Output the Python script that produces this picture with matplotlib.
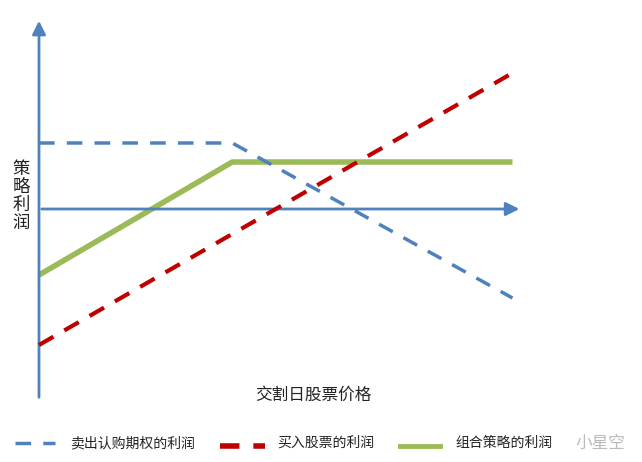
import matplotlib
matplotlib.use("Agg")
import matplotlib.pyplot as plt

plt.rcParams['font.family'] = ['Noto Sans CJK SC', 'DejaVu Sans']

# data (price units; strike at 40)
price_call = [0, 40, 98]
call_profit = [6.6, 6.6, -8.9]
price_stock = [0, 98]
stock_profit = [-13.6, 13.6]
price_combo = [0, 40, 98]
combo_profit = [-6.6, 4.7, 4.7]

legend_labels = ["卖出认购期权的利润", "买入股票的利润", "组合策略的利润"]
xlabel = "交割日股票价格"
ylabel = "策略利润"
watermark = "小星空"

BLUE = "#4f81bd"
RED = "#c00000"
GREEN = "#9bbb59"

fig = plt.figure(figsize=(6.42, 4.62), dpi=100)
ax = fig.add_axes([0, 0, 1, 1])
ax.set_xlim(-8.07, 124.8)
ax.set_ylim(-25.3, 20.9)
ax.axis('off')

# axes arrows
ax.annotate("", xy=(100, 0), xytext=(0, 0),
            arrowprops=dict(arrowstyle="-|>,head_length=0.8,head_width=0.4", color=BLUE, lw=2))
ax.annotate("", xy=(0, 19.1), xytext=(0, -19.1),
            arrowprops=dict(arrowstyle="-|>,head_length=0.8,head_width=0.4", color=BLUE, lw=2))

ax.plot(price_call, call_profit, color=BLUE, lw=2.5, dashes=(4.5, 3.5), solid_capstyle='butt', zorder=3)
ax.plot(price_stock, stock_profit, color=RED, lw=3, dashes=(4, 3), zorder=3)
ax.plot(price_combo, combo_profit, color=GREEN, lw=4, solid_capstyle='butt', zorder=2)

fig.text(313/642, 1 - 395/462, xlabel, ha='center', va='center', fontsize=12, color='#222222')
fig.text(21/642, 1 - 196/462, "\n".join(ylabel), ha='center', va='center', fontsize=12.5,
         color='#222222', linespacing=1.0)

# legend
ly = 1 - 443/462
fig.lines.append(plt.Line2D([15/642, 55/642], [ly, ly], transform=fig.transFigure,
                            color=BLUE, lw=2.5, dashes=(4.5, 3.5)))
fig.text(70/642, ly, legend_labels[0], ha='left', va='center', fontsize=10, color='#222222')
fig.lines.append(plt.Line2D([220/642, 265/642], [ly - 0.006, ly - 0.006], transform=fig.transFigure,
                            color=RED, lw=4, dashes=(3.5, 2.5)))
fig.text(277/642, ly, legend_labels[1], ha='left', va='center', fontsize=10, color='#222222')
fig.lines.append(plt.Line2D([400/642, 440/642], [ly - 0.006, ly - 0.006], transform=fig.transFigure,
                            color=GREEN, lw=3.5))
fig.text(455/642, ly, legend_labels[2], ha='left', va='center', fontsize=10, color='#222222')
fig.text(600/642, ly, watermark, ha='center', va='center', fontsize=12, color='#bbbbbb')

fig.savefig("out.png", dpi=100)
